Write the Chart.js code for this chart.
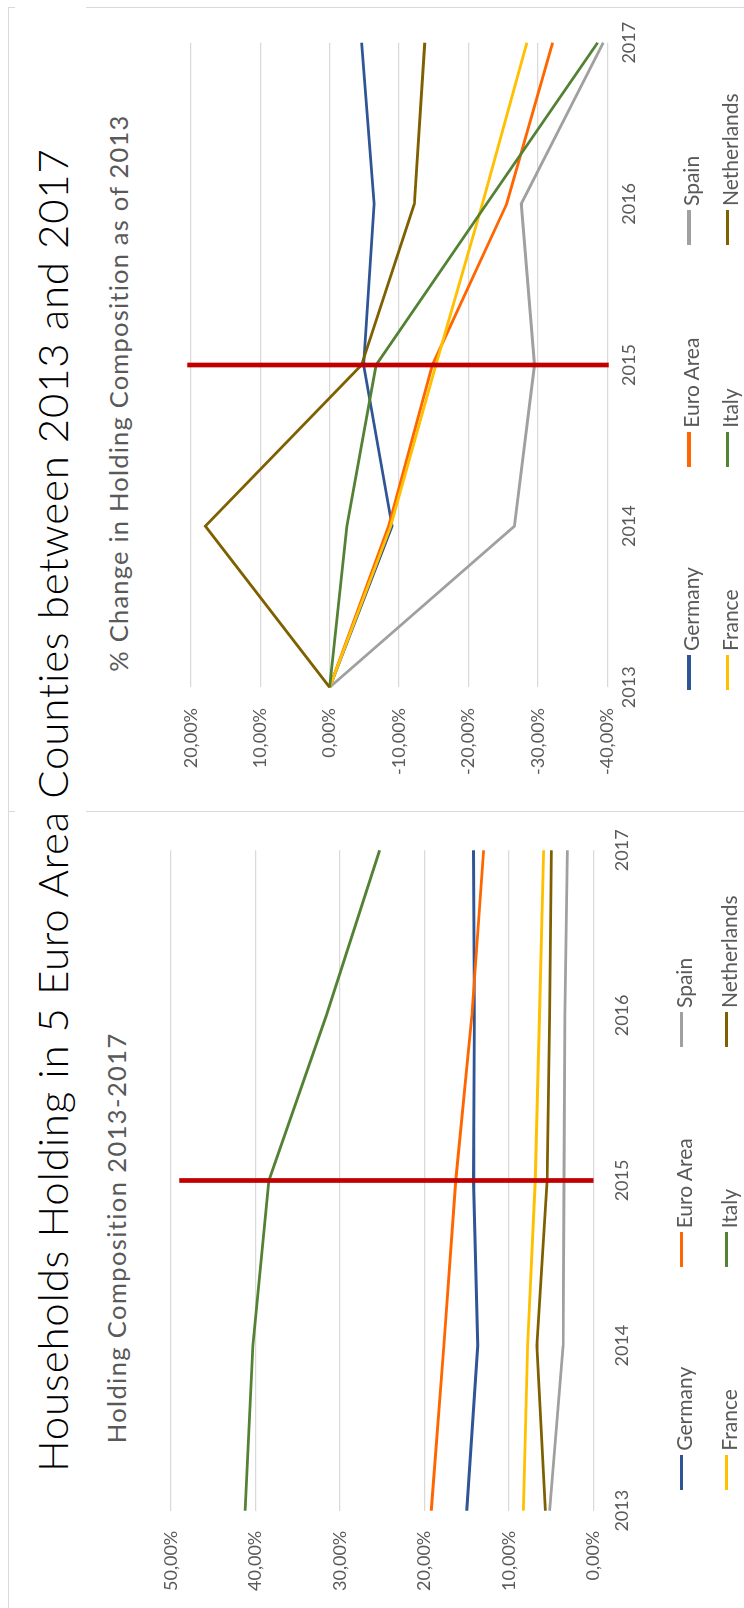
<!DOCTYPE html>
<html>
<head>
<meta charset="utf-8">
<script src="https://cdn.jsdelivr.net/npm/chart.js@4.4.1/dist/chart.umd.min.js"></script>
<style>
  html, body { margin:0; padding:0; background:#fff; width:744px; height:1608px; overflow:hidden; }
  #rot { position:absolute; left:0; top:0; width:1608px; height:744px; background:#fff;
         transform-origin:0 0; transform:translateY(1608px) rotate(-90deg); }
  .txt { position:absolute; white-space:nowrap; line-height:1; font-family:Lato, "Open Sans", sans-serif; }
  .rule { position:absolute; background:#D9D9D9; }
  canvas { position:absolute; }
  .lgm { position:absolute; height:3.2px; width:35px; }
</style>
</head>
<body>
<div id="rot">
  <div class="rule" style="left:0;top:8.2px;width:1601px;height:1.3px"></div>
  <div class="rule" style="left:795.6px;top:8.2px;width:1.4px;height:7px"></div>
  <div class="rule" style="left:795.6px;top:86px;width:1.4px;height:660px"></div>
  <div class="rule" style="left:1600px;top:8.2px;width:1.4px;height:7px"></div>
  <div class="rule" style="left:1600px;top:86px;width:1.4px;height:660px"></div>
  <canvas id="cHold" width="796" height="604" style="left:0;top:140px;width:796px;height:604px"></canvas>
  <canvas id="cChg" width="805" height="604" style="left:796px;top:140px;width:805px;height:604px"></canvas>
</div>
<script>
// ---------- data ----------
const years = ['2013', '2014', '2015', '2016', '2017'];
const countries = ['Germany', 'Euro Area', 'Spain', 'France', 'Italy', 'Netherlands'];

// Holding Composition 2013-2017 (%)
const holdGermany     = [15.0, 13.7, 14.2, 14.1, 14.2];
const holdEuroArea    = [19.2, 17.7, 16.3, 14.4, 13.0];
const holdSpain       = [5.2, 3.6, 3.5, 3.4, 3.1];
const holdFrance      = [8.3, 7.8, 6.9, 6.4, 5.9];
const holdItaly       = [41.2, 40.3, 38.4, 31.6, 25.3];
const holdNetherlands = [5.7, 6.7, 5.5, 5.2, 5.0];

// % Change in Holding Composition as of 2013
const chgGermany     = [0, -9.0, -4.9, -6.4, -4.6];
const chgEuroArea    = [0, -8.5, -14.8, -25.5, -32.1];
const chgSpain       = [0, -26.6, -29.5, -27.6, -39.4];
const chgFrance      = [0, -8.8, -15.3, -22.0, -28.4];
const chgItaly       = [0, -2.5, -6.7, -22.6, -38.6];
const chgNetherlands = [0, 17.9, -4.6, -12.2, -13.7];

const holdTickValues = [0, 10, 20, 30, 40, 50];
const holdTickLabels = ['0,00%', '10,00%', '20,00%', '30,00%', '40,00%', '50,00%'];
const chgTickValues  = [-40, -30, -20, -10, 0, 10, 20];
const chgTickLabels  = ['-40,00%', '-30,00%', '-20,00%', '-10,00%', '0,00%', '10,00%', '20,00%'];

const markerYear = '2015';
const holdMarkerRange = [49.0, 0];
const chgMarkerRange  = [20.5, -40.2];

const mainTitle = 'Households Holding in 5 Euro Area Counties between 2013 and 2017';
const holdTitle = 'Holding Composition 2013-2017';
const chgTitle  = '% Change in Holding Composition as of 2013';

// ---------- styles ----------
const seriesColors = ['#2F5597', '#FF6600', '#A0A0A0', '#FFC000', '#548235', '#7F6000'];
const rot = document.getElementById('rot');

Chart.defaults.font.family = 'Lato, "Open Sans", sans-serif';

function addText(str, u, top, size, weight, color, targetWidth) {
  const el = document.createElement('div');
  el.className = 'txt';
  el.textContent = str;
  el.style.left = u + 'px';
  el.style.top = top + 'px';
  el.style.fontSize = size + 'px';
  el.style.fontWeight = weight;
  el.style.color = color;
  rot.appendChild(el);
  if (targetWidth) {
    const ctx = document.createElement('canvas').getContext('2d');
    ctx.font = weight + ' ' + size + 'px Lato, "Open Sans", sans-serif';
    const w = ctx.measureText(str).width;
    el.style.letterSpacing = ((targetWidth - w) / (str.length - 1)) + 'px';
  }
  return el;
}

addText(mainTitle, 136, 30.5, 42, 300, '#000000', 1325);
addText(holdTitle, 164.7, 104.1, 25.5, 400, '#595959', 410);
addText(chgTitle, 936.3, 106, 25.5, 400, '#595959', 557);

const markerPlugin = {
  id: 'marker',
  afterDatasetsDraw(chart, args, opts) {
    const { ctx, scales } = chart;
    const px = scales.x.getPixelForValue(years.indexOf(opts.year));
    ctx.save();
    ctx.strokeStyle = opts.color;
    ctx.lineWidth = opts.width;
    ctx.beginPath();
    ctx.moveTo(px, scales.y.getPixelForValue(opts.range[0]));
    ctx.lineTo(px, scales.y.getPixelForValue(opts.range[1]));
    ctx.stroke();
    ctx.restore();
  }
};

function makeChart(id, seriesList, tickValues, tickLabels, markerRange, g) {
  const datasets = seriesList.map((vals, i) => ({
    label: countries[i],
    data: vals,
    borderColor: seriesColors[i],
    backgroundColor: seriesColors[i],
    borderWidth: 2.8,
    pointRadius: 0,
    pointHoverRadius: 0,
    tension: 0,
    fill: false,
    order: seriesList.length - i
  }));
  const tickFont = { family: 'Lato, "Open Sans", sans-serif', size: 18 };
  return new Chart(document.getElementById(id), {
    type: 'line',
    data: { labels: years, datasets },
    plugins: [markerPlugin],
    options: {
      responsive: false,
      animation: false,
      devicePixelRatio: 1,
      events: [],
      layout: { padding: { left: 0, right: g.padRight, top: g.padTop, bottom: g.padBottom } },
      plugins: {
        legend: { display: false },
        title: { display: false },
        tooltip: { enabled: false },
        marker: { year: markerYear, range: markerRange, color: '#C00000', width: 4.7 }
      },
      scales: {
        x: {
          offset: false,
          grid: { display: false, drawTicks: false },
          border: { display: false },
          ticks: { color: '#595959', font: tickFont, padding: g.xPad, maxRotation: 0, autoSkip: false },
          afterFit: (s) => { s.height = 40; }
        },
        y: {
          min: tickValues[0],
          max: tickValues[tickValues.length - 1],
          grid: { color: '#D9D9D9', lineWidth: 1.2, drawTicks: false },
          border: { display: false },
          ticks: {
            stepSize: 10,
            color: '#595959',
            font: tickFont,
            padding: g.yPad,
            callback: (v) => { const k = tickValues.indexOf(v); return k >= 0 ? tickLabels[k] : ''; }
          },
          afterFit: (s) => { s.width = g.yWidth; }
        }
      }
    }
  });
}

function addLegend(chart, uOffset, cols, rows) {
  chart.data.datasets.forEach((ds, i) => {
    const u = cols[i % 3];
    const v = rows[Math.floor(i / 3)];
    const m = document.createElement('div');
    m.className = 'lgm';
    m.style.left = u + 'px';
    m.style.top = (v - 1.6) + 'px';
    m.style.background = ds.borderColor;
    rot.appendChild(m);
    addText(ds.label, u + 39, v - 8.6, 21, 400, '#595959');
  });
}

const holdChart = makeChart('cHold',
  [holdGermany, holdEuroArea, holdSpain, holdFrance, holdItaly, holdNetherlands],
  holdTickValues, holdTickLabels, holdMarkerRange,
  { yWidth: 97.3, yPad: 20, xPad: 17.4, padRight: 29.7, padTop: 22.7, padBottom: 110.4 });

const chgChart = makeChart('cChg',
  [chgGermany, chgEuroArea, chgSpain, chgFrance, chgItaly, chgNetherlands],
  chgTickValues, chgTickLabels, chgMarkerRange,
  { yWidth: 124.7, yPad: 20.7, xPad: 11, padRight: 35.7, padTop: 50.7, padBottom: 96.6 });

addLegend(holdChart, 0, [118.3, 340.7, 561], [681.8, 726.3]);
addLegend(chgChart, 796, [918, 1141.3, 1363], [689, 727.4]);
</script>
</body>
</html>
